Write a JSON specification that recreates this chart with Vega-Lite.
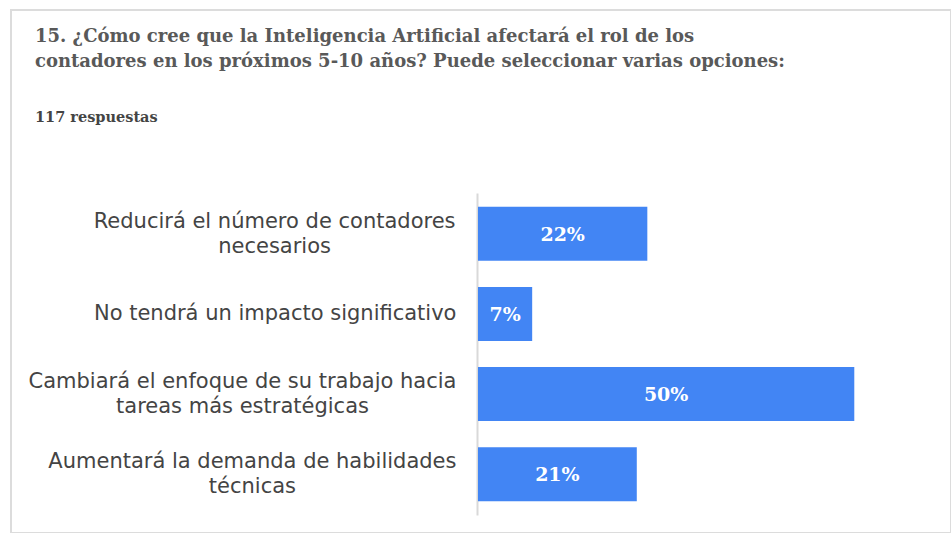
{
  "$schema": "https://vega.github.io/schema/vega-lite/v6.json",
  "width": 940,
  "height": 523,
  "autosize": {"type": "none"},
  "padding": {"left": 11, "top": 10, "right": 0, "bottom": 0},
  "background": "white",
  "config": {
    "view": {"stroke": "#dcdcdc", "strokeWidth": 2}
  },
  "title": {
    "text": ["15. ¿Cómo cree que la Inteligencia Artificial afectará el rol de los", "contadores en los próximos 5-10 años? Puede seleccionar varias opciones:"],
    "subtitle": "117 respuestas",
    "anchor": "start",
    "frame": "group",
    "orient": "top",
    "offset": -114,
    "dx": 24,
    "font": "DejaVu Serif",
    "fontWeight": "bold",
    "fontSize": 18,
    "color": "#595959",
    "lineHeight": 25,
    "subtitleFont": "DejaVu Serif",
    "subtitleFontWeight": "bold",
    "subtitleFontSize": 14.5,
    "subtitleColor": "#444444",
    "subtitlePadding": 40
  },
  "data": {
    "values": [
      {"opcion": "Reducirá el número de contadores\nnecesarios", "porcentaje": 22.5, "etiqueta": "22%"},
      {"opcion": "No tendrá un impacto significativo", "porcentaje": 7.2, "etiqueta": "7%"},
      {"opcion": "Cambiará el enfoque de su trabajo hacia\ntareas más estratégicas", "porcentaje": 50, "etiqueta": "50%"},
      {"opcion": "Aumentará la demanda de habilidades\ntécnicas", "porcentaje": 21.1, "etiqueta": "21%"}
    ]
  },
  "layer": [
    {
      "mark": {"type": "bar", "color": "#4285f4"},
      "encoding": {
        "x": {"field": "porcentaje", "type": "quantitative", "scale": {"domain": [-62.05, 62.85]}, "axis": null},
        "y": {
          "field": "opcion",
          "type": "nominal",
          "sort": null,
          "scale": {"range": [183, 505], "paddingInner": 0.327, "paddingOuter": 0.171},
          "axis": {
            "title": null,
            "offset": -466,
            "domain": true,
            "domainColor": "#d9d9d9",
            "domainWidth": 2,
            "ticks": false,
            "tickSize": 0,
            "labelPadding": {"expr": "indexof(datum.value, 'Reducir') == 0 ? 202.9 : indexof(datum.value, 'No tendr') == 0 ? 202.3 : indexof(datum.value, 'Cambiar') == 0 ? 235 : 225.1"},
            "labelOffset": {"expr": "length(split(datum.value, '\\n')) > 1 ? -12 : 0"},
            "labelAlign": "center",
            "labelBaseline": "middle",
            "labelFont": "DejaVu Sans",
            "labelFontSize": 21,
            "labelColor": "#444444",
            "labelLineHeight": 25,
            "labelLimit": 0,
            "labelExpr": "split(datum.label, '\\n')"
          }
        }
      }
    },
    {
      "mark": {"type": "text", "color": "white", "font": "DejaVu Serif", "fontWeight": "bold", "fontSize": 19, "baseline": "middle", "dy": 1},
      "encoding": {
        "x": {"field": "porcentaje", "type": "quantitative", "scale": {"domain": [-124.1, 125.7]}, "axis": null},
        "y": {"field": "opcion", "type": "nominal", "sort": null},
        "text": {"field": "etiqueta"}
      }
    }
  ],
  "resolve": {"scale": {"x": "independent"}}
}
